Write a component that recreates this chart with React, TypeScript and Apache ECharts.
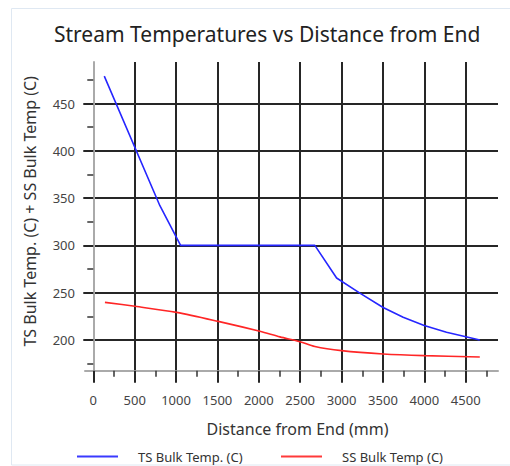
import React, { useEffect, useRef } from "react";
import * as echarts from "echarts";

const tsX = [133, 805, 1055, 2677, 2940, 3221, 3502, 3744, 3998, 4268, 4670];
const tsY = [479, 342, 300, 300, 265.5, 249.5, 234.3, 224, 215.3, 208.2, 200];
const ssX = [141, 504, 1007, 1510, 2013, 2255, 2497, 2677, 3000, 3502, 3998, 4670];
const ssY = [239.8, 235.6, 229.2, 219.7, 209.2, 203.3, 198.2, 193, 188.7, 185.2, 183.4, 182];

const xTicks = [0, 500, 1000, 1500, 2000, 2500, 3000, 3500, 4000, 4500];
const xMinorTicks = [250, 750, 1250, 1750, 2250, 2750, 3250, 3750, 4250, 4750];
const yTicks = [200, 250, 300, 350, 400, 450];
const yMinorTicks = [175, 225, 275, 325, 375, 425, 475];

const FONT = "Noto Sans";
const GRID = "#262626";

export default function App() {
  const ref = useRef<HTMLDivElement>(null);
  useEffect(() => {
    if (!ref.current) return;
    const chart = echarts.init(ref.current, null, { renderer: "svg" });
    const xMin = -100, xMax = 4890, yMin = 167.5, yMax = 494;
    const legendCommon = {
      top: 450,
      padding: 0,
      itemWidth: 41,
      itemHeight: 2,
      icon: "rect",
      textStyle: { fontFamily: FONT, fontSize: 13, color: "#333", padding: [0, 0, 0, 15] },
    };
    chart.setOption({
      animation: false,
      backgroundColor: "#fff",
      textStyle: { fontFamily: FONT },
      title: {
        text: "Stream Temperatures vs Distance from End",
        left: 54,
        top: 23,
        padding: 0,
        textStyle: { fontFamily: FONT, fontSize: 21, fontWeight: "normal", color: "#222" },
      },
      graphic: [
        {
          type: "rect",
          shape: { x: 11.5, y: 8.5, width: 520, height: 456.5 },
          style: { fill: "none", stroke: "#dfe8f2", lineWidth: 1 },
          silent: true,
        },
      ],
      grid: { left: 85, right: 12, top: 62, bottom: 95.3 },
      legend: [
        { ...legendCommon, data: ["TS Bulk Temp. (C)"], left: 77 },
        { ...legendCommon, data: ["SS Bulk Temp (C)"], left: 281 },
      ],
      xAxis: [
        {
          type: "value",
          min: xMin,
          max: xMax,
          position: "bottom",
          name: "Distance from End (mm)",
          nameLocation: "middle",
          nameGap: 50,
          nameTextStyle: { fontFamily: FONT, fontSize: 16, color: "#333", padding: [0, 0, 0, 12] },
          axisLine: { show: true, lineStyle: { color: "#aaa", width: 2 } },
          axisTick: { show: true, customValues: xTicks, length: 12, lineStyle: { color: GRID, width: 2 } },
          axisLabel: {
            customValues: xTicks,
            margin: 23,
            fontFamily: FONT,
            fontSize: 13,
            color: "#444",
            formatter: (v: number) => String(v),
          },
          splitLine: { show: true, lineStyle: { color: GRID, width: 2 } },
        },
        {
          type: "value",
          min: xMin,
          max: xMax,
          position: "bottom",
          axisLine: { show: false },
          axisTick: { show: true, customValues: xMinorTicks, length: 6, lineStyle: { color: "#333", width: 1.5 } },
          axisLabel: { show: false },
          splitLine: { show: false },
        },
      ],
      yAxis: [
        {
          type: "value",
          min: yMin,
          max: yMax,
          position: "left",
          name: "TS Bulk Temp. (C) + SS Bulk Temp (C)",
          nameLocation: "middle",
          nameGap: 47,
          nameTextStyle: { fontFamily: FONT, fontSize: 16, color: "#333", padding: [0, 0, 0, 10] },
          axisLine: { show: true, lineStyle: { color: "#aaa", width: 2 } },
          axisTick: { show: true, customValues: yTicks, length: 10, lineStyle: { color: GRID, width: 2 } },
          axisLabel: {
            customValues: yTicks,
            margin: 10,
            fontFamily: FONT,
            fontSize: 13,
            color: "#444",
            formatter: (v: number) => String(v),
          },
          splitLine: { show: true, lineStyle: { color: GRID, width: 2 } },
        },
        {
          type: "value",
          min: yMin,
          max: yMax,
          position: "left",
          axisLine: { show: false },
          axisTick: { show: true, customValues: yMinorTicks, length: 6, lineStyle: { color: "#333", width: 1.5 } },
          axisLabel: { show: false },
          splitLine: { show: false },
        },
      ],
      series: [
        {
          name: "TS Bulk Temp. (C)",
          type: "line",
          symbol: "none",
          data: tsX.map((x, i) => [x, tsY[i]]),
          lineStyle: { color: "#2626ff", width: 1.6 },
          itemStyle: { color: "#3a3aff" },
        },
        {
          name: "SS Bulk Temp (C)",
          type: "line",
          symbol: "none",
          smooth: 0.3,
          data: ssX.map((x, i) => [x, ssY[i]]),
          lineStyle: { color: "#ff2626", width: 1.6 },
          itemStyle: { color: "#ff3a3a" },
        },
      ],
    });
    return () => chart.dispose();
  }, []);
  return (
    <div
      ref={ref}
      style={{ position: "fixed", left: 0, top: 0, width: 510, height: 466 }}
    />
  );
}
